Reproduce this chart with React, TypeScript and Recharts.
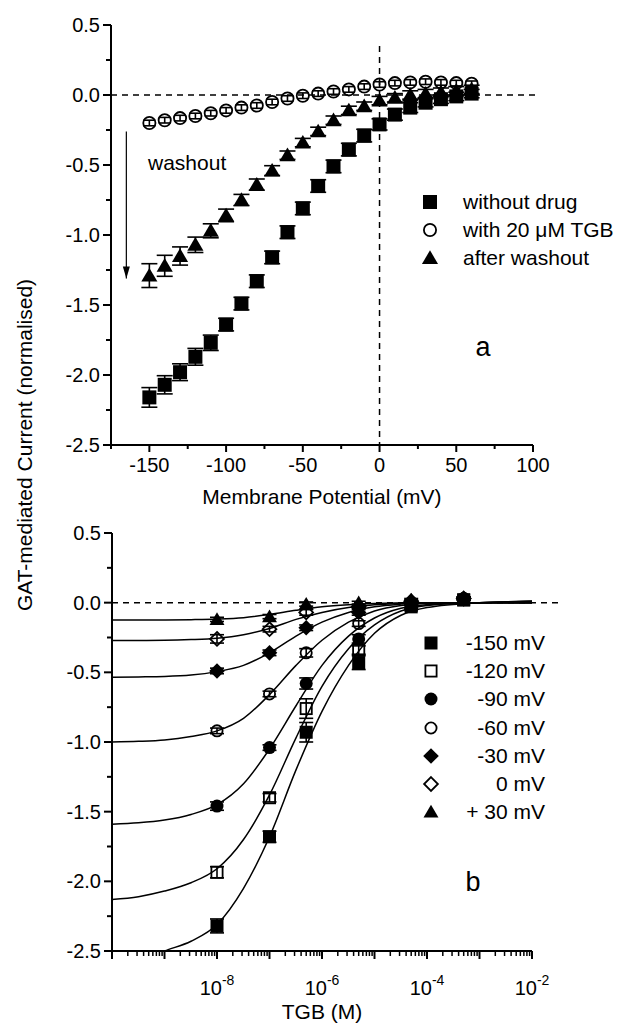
import {
  ComposedChart,
  Scatter,
  Line,
  XAxis,
  YAxis,
  ErrorBar,
  ReferenceLine,
  Legend,
  Label,
} from "recharts";

const FONT = "'Liberation Sans', Arial, Helvetica, sans-serif";

// ---- panel a: I/V relation ----
const potentials = [-150, -140, -130, -120, -110, -100, -90, -80, -70, -60, -50, -40, -30, -20, -10, 0, 10, 20, 30, 40, 50, 60];
const withoutDrug = [-2.16, -2.07, -1.98, -1.87, -1.77, -1.64, -1.49, -1.33, -1.16, -0.98, -0.81, -0.65, -0.51, -0.39, -0.29, -0.21, -0.14, -0.09, -0.055, -0.03, -0.01, 0.01];
const withoutDrugErr = [0.07, 0.065, 0.06, 0.06, 0.055, 0.045, 0.045, 0.045, 0.045, 0.045, 0.045, 0.045, 0.045, 0.045, 0.045, 0.04, 0.04, 0.035, 0.03, 0.03, 0.03, 0.03];
const withTGB = [-0.2, -0.18, -0.165, -0.15, -0.13, -0.11, -0.09, -0.075, -0.05, -0.025, -0.005, 0.01, 0.025, 0.04, 0.06, 0.075, 0.085, 0.09, 0.095, 0.09, 0.085, 0.08];
const withTGBErr = [0.02, 0.02, 0.02, 0.02, 0.02, 0.02, 0.02, 0.02, 0.02, 0.02, 0.02, 0.02, 0.02, 0.02, 0.02, 0.02, 0.02, 0.02, 0.02, 0.02, 0.02, 0.02];
const afterWashout = [-1.29, -1.22, -1.15, -1.07, -0.97, -0.86, -0.75, -0.64, -0.54, -0.43, -0.34, -0.26, -0.18, -0.11, -0.08, -0.04, -0.02, 0.0, 0.01, 0.02, 0.03, 0.04];
const afterWashoutErr = [0.085, 0.075, 0.065, 0.055, 0.05, 0.045, 0.04, 0.04, 0.035, 0.03, 0.03, 0.03, 0.03, 0.03, 0.03, 0.03, 0.03, 0.03, 0.03, 0.03, 0.03, 0.03];
const potentialTicks = [-175, -150, -125, -100, -75, -50, -25, 0, 25, 50, 75, 100];

// ---- panel b: concentration dependence ----
const tgbConc = [1e-8, 1e-7, 5e-7, 5e-6, 5e-5, 5e-4];
const m150 = [-2.32, -1.68, -0.93, -0.43, -0.03, 0.02];
const m150Err = [0.05, 0.04, 0.07, 0.05, 0.02, 0.02];
const m120 = [-1.935, -1.4, -0.76, -0.34, -0.02, 0.02];
const m120Err = [0.04, 0.03, 0.07, 0.03, 0.02, 0.02];
const m90 = [-1.46, -1.04, -0.58, -0.26, -0.01, 0.03];
const m90Err = [0.03, 0.02, 0.04, 0.03, 0.01, 0.01];
const m60 = [-0.92, -0.655, -0.36, -0.15, 0.0, 0.03];
const m60Err = [0.02, 0.02, 0.03, 0.02, 0.01, 0.01];
const m30 = [-0.49, -0.36, -0.18, -0.07, 0.0, 0.03];
const m30Err = [0.02, 0.02, 0.02, 0.02, 0.01, 0.01];
const m0 = [-0.26, -0.19, -0.07, -0.03, 0.01, 0.03];
const m0Err = [0.03, 0.02, 0.02, 0.01, 0.01, 0.01];
const p30 = [-0.12, -0.1, -0.01, 0.0, 0.02, 0.03];
const p30Err = [0.015, 0.015, 0.015, 0.01, 0.01, 0.01];

// fitted curves
const fitConc = [1e-10, 3.2e-10, 1e-9, 3.2e-9, 1e-8, 3.2e-8, 1e-7, 3.2e-7, 1e-6, 3.2e-6, 1e-5, 3.2e-5, 1e-4, 1e-3, 1e-2];
const fit150 = [-2.62, -2.58, -2.5, -2.43, -2.31, -2.05, -1.68, -1.2, -0.78, -0.45, -0.22, -0.09, -0.035, 0.0, 0.01];
const fit120 = [-2.13, -2.11, -2.07, -2.01, -1.91, -1.7, -1.38, -0.97, -0.6, -0.33, -0.16, -0.06, -0.02, 0.0, 0.01];
const fit90 = [-1.59, -1.58, -1.56, -1.52, -1.45, -1.3, -1.05, -0.74, -0.45, -0.24, -0.11, -0.04, -0.015, 0.0, 0.01];
const fit60 = [-1.0, -0.995, -0.985, -0.96, -0.92, -0.83, -0.66, -0.45, -0.27, -0.14, -0.06, -0.02, -0.005, 0.0, 0.0];
const fit30 = [-0.535, -0.533, -0.53, -0.52, -0.495, -0.45, -0.36, -0.24, -0.14, -0.07, -0.03, -0.01, 0.0, 0.0, 0.0];
const fit0 = [-0.272, -0.271, -0.27, -0.265, -0.255, -0.23, -0.185, -0.12, -0.07, -0.035, -0.015, -0.005, 0.0, 0.0, 0.0];
const fitP30 = [-0.125, -0.125, -0.124, -0.122, -0.118, -0.108, -0.085, -0.055, -0.03, -0.015, -0.006, -0.002, 0.0, 0.0, 0.0];

const decades = [-10, -9, -8, -7, -6, -5, -4, -3, -2];
const labelledDecades = [-8, -6, -4, -2];
const minorSteps = [2, 3, 4, 5, 6, 7, 8, 9];

const currentTicks = [-2.5, -2.25, -2, -1.75, -1.5, -1.25, -1, -0.75, -0.5, -0.25, 0, 0.25, 0.5];
const currentLabels = ["-2.5", "", "-2.0", "", "-1.5", "", "-1.0", "", "-0.5", "", "0.0", "", "0.5"];

const concTicks: number[] = [];
decades.forEach((d) => {
  concTicks.push(Math.pow(10, d));
  if (d < -2) minorSteps.forEach((m) => concTicks.push(m * Math.pow(10, d)));
});

const rows = (xs: number[], ys: number[], es?: number[]) =>
  xs.map((x, i) => ({ x, y: ys[i], e: es ? es[i] : 0 }));

type Kind = "square" | "squareOpen" | "circle" | "circleOpen" | "diamond" | "diamondOpen" | "triangle";

function Mark({ kind, cx, cy, s }: { kind: Kind; cx: number; cy: number; s: number }) {
  const h = s / 2;
  const sw = 1.8;
  switch (kind) {
    case "square":
      return <rect x={cx - h} y={cy - h} width={s} height={s} fill="#000" />;
    case "squareOpen":
      return <rect x={cx - h + 0.9} y={cy - h + 0.9} width={s - 1.8} height={s - 1.8} fill="none" stroke="#000" strokeWidth={sw} />;
    case "circle":
      return <circle cx={cx} cy={cy} r={h} fill="#000" />;
    case "circleOpen":
      return <circle cx={cx} cy={cy} r={h - 0.9} fill="none" stroke="#000" strokeWidth={sw} />;
    case "diamond": {
      const d = h * 1.2;
      return <polygon points={`${cx},${cy - d} ${cx + d},${cy} ${cx},${cy + d} ${cx - d},${cy}`} fill="#000" />;
    }
    case "diamondOpen": {
      const d = h * 1.2 - 0.9;
      return <polygon points={`${cx},${cy - d} ${cx + d},${cy} ${cx},${cy + d} ${cx - d},${cy}`} fill="none" stroke="#000" strokeWidth={sw} />;
    }
    default: {
      const w = h * 1.15;
      return <polygon points={`${cx},${cy - h * 1.1} ${cx + w},${cy + h * 0.85} ${cx - w},${cy + h * 0.85}`} fill="#000" />;
    }
  }
}

function YTick({ x, y, index }: any) {
  const label = currentLabels[index] ?? "";
  const major = label !== "";
  return (
    <g>
      <line x1={x} x2={x - (major ? 8 : 5)} y1={y} y2={y} stroke="#000" strokeWidth={2} />
      {major && (
        <text x={x - 11} y={y} dy={7} textAnchor="end" fontSize={20} fontFamily={FONT} fill="#000">
          {label}
        </text>
      )}
    </g>
  );
}

function VTick({ x, y, payload }: any) {
  const v = payload.value;
  const major = v % 50 === 0;
  return (
    <g>
      <line x1={x} x2={x} y1={y} y2={y + (major ? 7 : 4)} stroke="#000" strokeWidth={2} />
      {major && (
        <text x={x} y={y + 27} textAnchor="middle" fontSize={20} fontFamily={FONT} fill="#000">
          {v}
        </text>
      )}
    </g>
  );
}

function CTick({ x, y, payload }: any) {
  const lg = Math.log10(payload.value);
  const e = Math.round(lg);
  const major = Math.abs(lg - e) < 1e-6;
  const labelled = major && labelledDecades.includes(e);
  return (
    <g>
      <line x1={x} x2={x} y1={y} y2={y + (major ? 8 : 5)} stroke="#000" strokeWidth={major ? 2 : 1.5} />
      {labelled && (
        <text x={x} y={y + 44} textAnchor="middle" fontSize={20} fontFamily={FONT} fill="#000">
          10
          <tspan dy={-10} fontSize={14}>
            {e}
          </tspan>
        </text>
      )}
    </g>
  );
}

const arrowShape = (p: any) => (
  <g>
    <line x1={p.x1} y1={p.y1} x2={p.x2} y2={p.y2} stroke="#000" strokeWidth={1.2} />
    <polygon points={`${p.x2 - 3.5},${p.y2 - 12} ${p.x2 + 3.5},${p.y2 - 12} ${p.x2},${p.y2}`} fill="#000" />
  </g>
);

const topSeries: { name: string; kind: Kind; vals: number[]; errs: number[]; cap: number }[] = [
  { name: "without drug", kind: "square", vals: withoutDrug, errs: withoutDrugErr, cap: 8 },
  { name: "with 20 μM TGB", kind: "circleOpen", vals: withTGB, errs: withTGBErr, cap: 6 },
  { name: "after washout", kind: "triangle", vals: afterWashout, errs: afterWashoutErr, cap: 8 },
];

const bottomSeries: { name: string; kind: Kind; vals: number[]; errs: number[]; fit: number[] }[] = [
  { name: "-150 mV", kind: "square", vals: m150, errs: m150Err, fit: fit150 },
  { name: "-120 mV", kind: "squareOpen", vals: m120, errs: m120Err, fit: fit120 },
  { name: "-90 mV", kind: "circle", vals: m90, errs: m90Err, fit: fit90 },
  { name: "-60 mV", kind: "circleOpen", vals: m60, errs: m60Err, fit: fit60 },
  { name: "-30 mV", kind: "diamond", vals: m30, errs: m30Err, fit: fit30 },
  { name: "0 mV", kind: "diamondOpen", vals: m0, errs: m0Err, fit: fit0 },
  { name: "+ 30 mV", kind: "triangle", vals: p30, errs: p30Err, fit: fitP30 },
];

const axisLine = { stroke: "#000", strokeWidth: 2 };
const dash = "6 5";
const textStyle = { fontSize: 21, fontFamily: FONT, color: "#000" };

function TopLegend() {
  return (
    <div style={{ ...textStyle }}>
      {topSeries.map((s) => (
        <div key={s.name} style={{ display: "flex", alignItems: "center", height: 28 }}>
          <svg width={24} height={24}>
            <Mark kind={s.kind} cx={12} cy={12} s={14} />
          </svg>
          <span style={{ marginLeft: 21, whiteSpace: "nowrap" }}>{s.name}</span>
        </div>
      ))}
    </div>
  );
}

function BottomLegend() {
  return (
    <div style={{ ...textStyle }}>
      {bottomSeries.map((s) => (
        <div key={s.name} style={{ display: "flex", alignItems: "center", height: 28.2 }}>
          <svg width={24} height={24}>
            <Mark kind={s.kind} cx={12} cy={12} s={13} />
          </svg>
          <span style={{ width: 102, textAlign: "right", whiteSpace: "nowrap" }}>{s.name}</span>
        </div>
      ))}
    </div>
  );
}

export default function App() {
  return (
    <div style={{ position: "absolute", left: 0, top: 0, width: 617, height: 1026, background: "#fff", fontFamily: FONT }}>
      {/* panel a */}
      <div style={{ position: "absolute", left: 0, top: 0 }}>
        <ComposedChart width={617} height={520} margin={{ top: 25, right: 84, bottom: 16, left: 0 }}>
          <XAxis
            dataKey="x"
            type="number"
            domain={[-175, 100]}
            ticks={potentialTicks}
            interval={0}
            allowDataOverflow
            height={59}
            axisLine={axisLine}
            tickLine={false}
            tickSize={0}
            tickMargin={0}
            tick={VTick}
          >
            <Label value="Membrane Potential (mV)" position="insideBottom" offset={0} style={{ fontSize: 21, fontFamily: FONT, fill: "#000" }} />
          </XAxis>
          <YAxis
            dataKey="y"
            type="number"
            domain={[-2.5, 0.5]}
            ticks={currentTicks}
            interval={0}
            allowDataOverflow
            width={111}
            axisLine={axisLine}
            tickLine={false}
            tickSize={0}
            tickMargin={0}
            tick={YTick}
          />
          <ReferenceLine
            segment={[{ x: -175, y: 0 }, { x: 102, y: 0 }]}
            stroke="#000"
            strokeWidth={1.5}
            strokeDasharray={dash}
            ifOverflow="visible"
          />
          <ReferenceLine
            segment={[{ x: 0, y: 0.35 }, { x: 0, y: -2.5 }]}
            stroke="#000"
            strokeWidth={1.5}
            strokeDasharray={dash}
            ifOverflow="visible"
          />
          <ReferenceLine
            segment={[{ x: -165, y: -0.26 }, { x: -165, y: -1.31 }]}
            ifOverflow="visible"
            shape={arrowShape}
          />
          {topSeries.map((s) => (
            <Scatter
              key={s.name}
              name={s.name}
              data={rows(potentials, s.vals, s.errs)}
              isAnimationActive={false}
              shape={(p: any) => <Mark kind={s.kind} cx={p.cx} cy={p.cy} s={14} />}
            >
              <ErrorBar dataKey="e" direction="y" width={s.cap} stroke="#000" strokeWidth={1.6} isAnimationActive={false} />
            </Scatter>
          ))}
          <Legend
            layout="vertical"
            align="center"
            verticalAlign="middle"
            wrapperStyle={{ left: 418, top: 188, width: 200 }}
            content={() => <TopLegend />}
          />
        </ComposedChart>
      </div>

      {/* panel b */}
      <div style={{ position: "absolute", left: 0, top: 520 }}>
        <ComposedChart width={617} height={506} margin={{ top: 13, right: 85, bottom: 7, left: 0 }}>
          <XAxis
            dataKey="x"
            type="number"
            scale="log"
            domain={[1e-10, 1e-2]}
            ticks={concTicks}
            interval={0}
            allowDataOverflow
            height={68}
            axisLine={axisLine}
            tickLine={false}
            tickSize={0}
            tickMargin={0}
            tick={CTick}
          >
            <Label value="TGB (M)" position="insideBottom" offset={0} style={{ fontSize: 21, fontFamily: FONT, fill: "#000" }} />
          </XAxis>
          <YAxis
            dataKey="y"
            type="number"
            domain={[-2.5, 0.5]}
            ticks={currentTicks}
            interval={0}
            allowDataOverflow
            width={112}
            axisLine={axisLine}
            tickLine={false}
            tickSize={0}
            tickMargin={0}
            tick={YTick}
          />
          <ReferenceLine
            segment={[{ x: 1e-10, y: 0 }, { x: 3.5e-2, y: 0 }]}
            stroke="#000"
            strokeWidth={1.5}
            strokeDasharray={dash}
            ifOverflow="visible"
          />
          {bottomSeries.map((s) => (
            <Line
              key={"fit" + s.name}
              data={rows(fitConc, s.fit)}
              dataKey="y"
              type="monotone"
              dot={false}
              stroke="#000"
              strokeWidth={1.5}
              legendType="none"
              isAnimationActive={false}
            />
          ))}
          {bottomSeries.map((s) => (
            <Scatter
              key={s.name}
              name={s.name}
              data={rows(tgbConc, s.vals, s.errs)}
              isAnimationActive={false}
              shape={(p: any) => <Mark kind={s.kind} cx={p.cx} cy={p.cy} s={13} />}
            >
              <ErrorBar dataKey="e" direction="y" width={7} stroke="#000" strokeWidth={1.6} isAnimationActive={false} />
            </Scatter>
          ))}
          <Legend
            layout="vertical"
            align="center"
            verticalAlign="middle"
            wrapperStyle={{ left: 419, top: 109, width: 160 }}
            content={() => <BottomLegend />}
          />
        </ComposedChart>
      </div>

      {/* annotations */}
      <div
        style={{
          position: "absolute",
          left: 25,
          top: 445,
          transform: "translate(-50%, -50%) rotate(-90deg)",
          whiteSpace: "nowrap",
          ...textStyle,
        }}
      >
        GAT-mediated Current (normalised)
      </div>
      <div style={{ position: "absolute", left: 148, top: 151, lineHeight: "24px", ...textStyle }}>washout</div>
      <div style={{ position: "absolute", left: 483, top: 347, transform: "translate(-50%, -50%)", fontSize: 27, fontFamily: FONT, lineHeight: "30px" }}>a</div>
      <div style={{ position: "absolute", left: 473, top: 882, transform: "translate(-50%, -50%)", fontSize: 27, fontFamily: FONT, lineHeight: "30px" }}>b</div>
    </div>
  );
}
